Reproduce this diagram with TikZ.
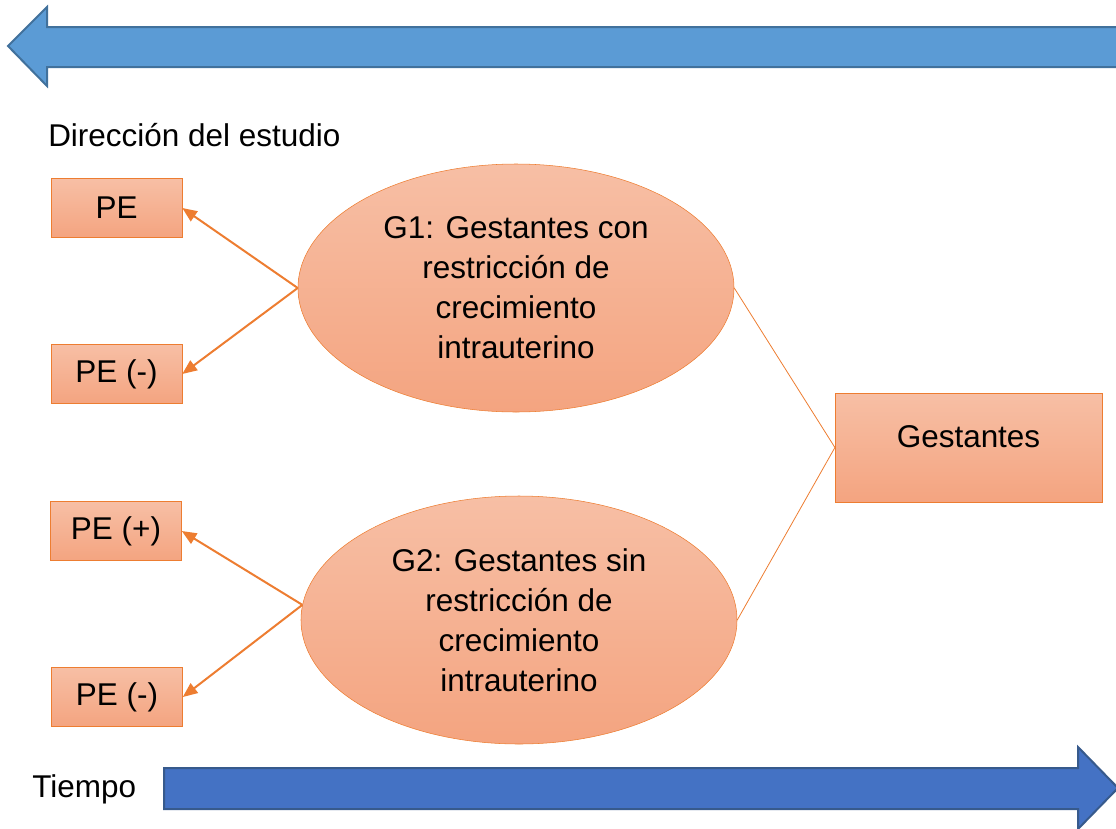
\documentclass[tikz,border=0pt]{standalone}
\usepackage{fontspec}
\setmainfont{Liberation Sans}
\usetikzlibrary{shapes.geometric,arrows.meta}
\definecolor{azulclaro}{RGB}{91,155,213}
\definecolor{azulborde}{RGB}{65,113,156}
\definecolor{azul}{RGB}{68,114,196}
\definecolor{azulosc}{RGB}{55,90,140}
\definecolor{naranja}{RGB}{237,125,49}
\definecolor{claro}{RGB}{247,191,165}
\definecolor{oscuro}{RGB}{244,164,128}
\newcommand{\texto}{\fontsize{23.6}{30}\selectfont}

\begin{document}
\begin{tikzpicture}[x=0.75pt,y=-0.75pt,
    caja/.style={draw=naranja, top color=claro, bottom color=oscuro,
      minimum width=98.25pt, minimum height=44.25pt, inner sep=0pt, font=\texto},
    grupo/.style={ellipse, draw=naranja, top color=claro, bottom color=oscuro,
      minimum width=327pt, minimum height=186pt, inner sep=0pt, align=center, font=\texto},
    flecha/.style={draw=naranja, line width=1.5pt, -{Triangle[length=11pt,width=9pt]}},
    enlace/.style={draw=naranja, line width=0.6pt}]
    \useasboundingbox (0,0) rectangle (1116,828);

    % direccion del estudio
    \draw[azulborde, fill=azulclaro, line width=1.5pt] (8,46) -- (47,7) -- (47,27) -- (1125,27)
      -- (1125,67) -- (47,67) -- (47,86) -- cycle;
    \node[anchor=base west, inner sep=0pt, font=\texto] (dir) at (48,146) {Dirección del estudio};

    % tiempo
    \draw[azulosc, fill=azul, line width=1.5pt] (164,768) -- (1078,768) -- (1078,747) -- (1118,788)
      -- (1078,829) -- (1078,809) -- (164,809) -- cycle;
    \node[anchor=base west, inner sep=0pt, font=\texto] (tiempo) at (32,797) {Tiempo};

    % grupos
    \node[grupo] (G1) at (516,288) {G1: Gestantes con\\restricción de\\crecimiento\\intrauterino};
    \node[grupo] (G2) at (519,620) {G2: Gestantes sin\\restricción de\\crecimiento\\intrauterino};
    \node[caja, minimum width=200pt, text height=40.5pt, text depth=41.25pt] (gest) at (968.5,447.5) {Gestantes};

    % resultados
    \node[caja] (pe1) at (116.5,208) {PE};
    \node[caja] (pem1) at (116.5,374) {PE (-)};
    \node[caja] (pep2) at (116,531) {PE (+)};
    \node[caja] (pem2) at (117,697) {PE (-)};

    \draw[enlace] (G1.east) -- (gest.west) -- (G2.east);
    \draw[flecha] (G1.west) -- (pe1.east);
    \draw[flecha] (G1.west) -- (pem1.east);
    \draw[flecha] (G2.176) -- (pep2.east);
    \draw[flecha] (G2.176) -- (pem2.east);
\end{tikzpicture}
\end{document}
